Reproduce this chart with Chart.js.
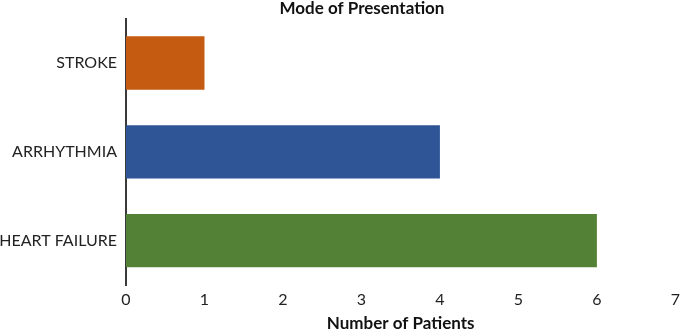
<!DOCTYPE html>
<html>
<head>
<meta charset="utf-8">
<script src="https://cdn.jsdelivr.net/npm/chart.js@4"></script>
<style>
  html, body { margin: 0; padding: 0; background: #fff; }
  #wrap { width: 685px; height: 334px; }
</style>
</head>
<body>
<div id="wrap"><canvas id="modeChart"></canvas></div>
<script>
const categories = ["STROKE", "ARRHYTHMIA", "HEART FAILURE"];
const patients = [1, 4, 6];
const barColors = ["#C55A11", "#2F5597", "#538135"];
const xTicks = [0, 1, 2, 3, 4, 5, 6, 7];

const FONT = "Lato, 'Open Sans', sans-serif";

// chart title drawn a bit right of the canvas centre, like the original
const titlePlugin = {
  id: "topTitle",
  afterDraw(c) {
    const ctx = c.ctx;
    ctx.save();
    ctx.font = "bold 17px " + FONT;
    ctx.fillStyle = "#111";
    ctx.textAlign = "center";
    ctx.textBaseline = "middle";
    ctx.fillText("Mode of Presentation", 362, 9);
    ctx.restore();
  }
};

const ctx = document.getElementById("modeChart").getContext("2d");
new Chart(ctx, {
  type: "bar",
  data: {
    labels: categories,
    datasets: [{
      data: patients,
      backgroundColor: barColors,
      borderWidth: 0,
      categoryPercentage: 0.6,
      barPercentage: 1
    }]
  },
  options: {
    indexAxis: "y",
    responsive: true,
    maintainAspectRatio: false,
    animation: false,
    layout: { padding: { top: 15, right: 5 } },
    plugins: {
      legend: { display: false },
      title: { display: false },
      tooltip: { enabled: false }
    },
    scales: {
      x: {
        min: 0,
        max: 7,
        afterBuildTicks: axis => { axis.ticks = xTicks.map(v => ({ value: v })); },
        afterFit: axis => { axis.height = 49; },
        grid: { display: false, drawTicks: false },
        border: { display: false },
        ticks: { padding: 5, color: "#222", font: { family: FONT, size: 16 } },
        title: {
          display: true,
          text: "Number of Patients",
          color: "#111",
          font: { family: FONT, size: 17, weight: "bold" },
          padding: { top: 0, bottom: 0 }
        }
      },
      y: {
        afterFit: axis => { axis.width = 126; },
        grid: { display: false, drawTicks: false },
        border: { display: true, color: "#3a3a3a", width: 2 },
        ticks: { padding: 9, color: "#222", font: { family: FONT, size: 16 } }
      }
    }
  },
  plugins: [titlePlugin]
});
</script>
</body>
</html>
